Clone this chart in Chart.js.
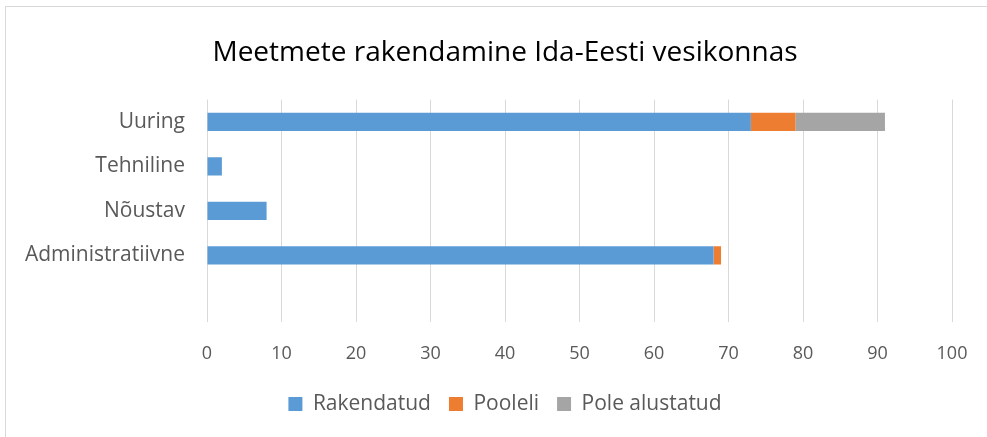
<!DOCTYPE html>
<html>
<head>
<meta charset="utf-8">
<script src="https://cdn.jsdelivr.net/npm/chart.js@4"></script>
<style>
  html, body { margin: 0; padding: 0; background: #fff; }
  #wrap { position: relative; width: 987px; height: 437px; overflow: hidden; }
  #frame { position: absolute; left: 5px; top: 6px; width: 1000px; height: 440px; border: 1px solid #d9d9d9; box-sizing: border-box; }
  canvas { position: absolute; left: 0; top: 0; }
</style>
</head>
<body>
<div id="wrap">
  <div id="frame"></div>
  <canvas id="chart" width="1010" height="437"></canvas>
</div>
<script>
const categories = ['Uuring', 'Tehniline', 'Nõustav', 'Administratiivne', ''];
const rakendatud = [73, 2, 8, 68, null];
const pooleli = [6, 0, 0, 1, null];
const poleAlustatud = [12, 0, 0, 0, null];
const xTicks = [0, 10, 20, 30, 40, 50, 60, 70, 80, 90, 100];

const FONT = "'Open Sans', 'Noto Sans', sans-serif";

const ctx = document.getElementById("chart").getContext("2d");
new Chart(ctx, {
    type: "bar",
    data: {
        labels: categories,
        datasets: [
            { label: "Rakendatud", data: rakendatud, backgroundColor: "#5b9bd5" },
            { label: "Pooleli", data: pooleli, backgroundColor: "#ed7d31" },
            { label: "Pole alustatud", data: poleAlustatud, backgroundColor: "#a5a5a5" }
        ]
    },
    options: {
        indexAxis: "y",
        responsive: false,
        animation: false,
        barPercentage: 0.41,
        categoryPercentage: 1,
        layout: { padding: { left: 0, right: 0, top: 0, bottom: 12.5 } },
        scales: {
            x: {
                stacked: true,
                min: 0,
                max: 100,
                afterBuildTicks: (scale) => { scale.ticks = xTicks.map(v => ({ value: v })); },
                afterFit: (scale) => { scale.height = 53.5; },
                grid: { color: "#d9d9d9", drawTicks: false },
                border: { display: false },
                ticks: { color: "#595959", padding: 21, font: { family: FONT, size: 18 } }
            },
            y: {
                stacked: true,
                afterFit: (scale) => { scale.width = 207; },
                grid: { display: false, drawTicks: false },
                border: { display: false },
                ticks: { color: "#595959", padding: 22, font: { family: FONT, size: 21 } }
            },
            // empty spacer on the right so the plot ends at the "100" line
            spacer: {
                type: "linear",
                position: "right",
                min: 0,
                max: 1,
                afterFit: (scale) => { scale.width = 58; },
                grid: { display: false, drawTicks: false },
                border: { display: false },
                ticks: { display: false }
            }
        },
        plugins: {
            title: {
                display: true,
                text: "Meetmete rakendamine Ida-Eesti vesikonnas",
                color: "#000",
                font: { family: FONT, size: 28, weight: "normal" },
                padding: { top: 36, bottom: 30 }
            },
            legend: {
                position: "bottom",
                labels: {
                    color: "#595959",
                    font: { family: FONT, size: 21 },
                    boxWidth: 14,
                    boxHeight: 14,
                    padding: 18
                }
            },
            tooltip: { enabled: false }
        }
    }
});
</script>
</body>
</html>
